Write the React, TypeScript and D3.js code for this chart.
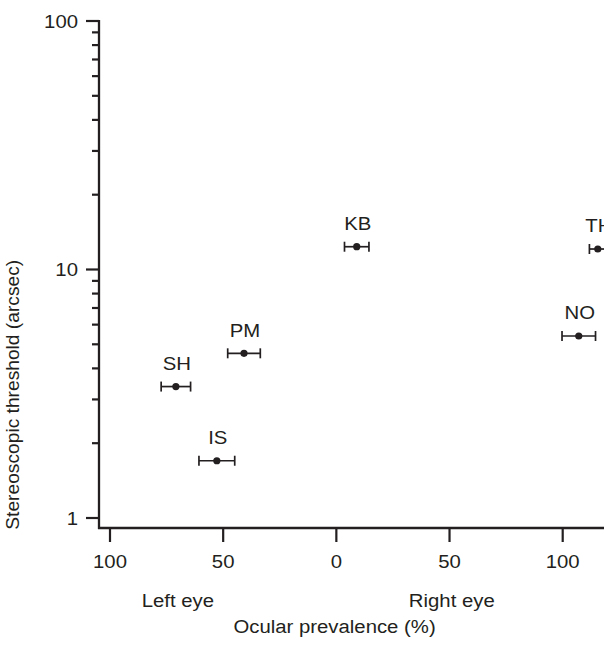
import React from "react";
import * as d3 from "d3";

const names = ["SH", "PM", "IS", "KB", "NO", "TH"];
const prevalence = [-70.9, -40.8, -52.8, 9.0, 107.1, 115.5];
const prevalenceErr = [6.5, 7.2, 7.9, 5.4, 7.4, 3.7];
const threshold = [3.38, 4.6, 1.7, 12.35, 5.4, 12.09];
const xTicks = [-100, -50, 0, 50, 100];
const yMajor = [1, 10, 100];
const yMinor = [2, 3, 4, 5, 6, 7, 8, 9, 20, 30, 40, 50, 60, 70, 80, 90];

const W = 604;
const H = 646;
const INK = "#231f20";
const FONT = "'Liberation Sans', Arial, Helvetica, sans-serif";
const FS = 19.2;
const SX = 1.06;

export default function App() {
  const x = d3.scaleLinear().domain([-100, 100]).range([110, 562.7]);
  const y = d3.scaleLog().domain([1, 100]).range([518, 21]);
  const axisY = 528;
  const axisX = 99;

  const T = (px: number, py: number, s: string, anchor = "middle", key?: string) => (
    <text
      key={key}
      transform={`translate(${px},${py}) scale(${SX},1)`}
      textAnchor={anchor}
      fontFamily={FONT}
      fontSize={FS}
      fill={INK}
    >
      {s}
    </text>
  );

  return (
    <svg
      width={W}
      height={H}
      style={{ position: "absolute", left: 0, top: 0, display: "block", overflow: "hidden", background: "#fff" }}
    >
      <rect x={0} y={0} width={W} height={H} fill="#fff" />
      {/* y axis */}
      <line x1={axisX} x2={axisX} y1={y(100) - 1} y2={axisY + 1} stroke={INK} strokeWidth={2.3} />
      {yMajor.map((v) => (
        <g key={"ym" + v}>
          <line x1={axisX - 13} x2={axisX} y1={y(v)} y2={y(v)} stroke={INK} strokeWidth={2.2} />
          {T(axisX - 21, y(v) + 6.8, String(v), "end")}
        </g>
      ))}
      {yMinor.map((v) => (
        <line key={"yn" + v} x1={axisX - 7} x2={axisX} y1={y(v)} y2={y(v)} stroke={INK} strokeWidth={2.2} />
      ))}
      {/* x axis */}
      <line x1={axisX - 1} x2={W + 10} y1={axisY} y2={axisY} stroke={INK} strokeWidth={2.3} />
      {xTicks.map((v) => (
        <g key={"xt" + v}>
          <line x1={x(v)} x2={x(v)} y1={axisY} y2={axisY + 14} stroke={INK} strokeWidth={2.2} />
          {T(x(v), 568, String(Math.abs(v)))}
        </g>
      ))}
      {T(x(-70), 607, "Left eye")}
      {T(x(51), 607, "Right eye")}
      {T(x(-0.8), 633, "Ocular prevalence (%)")}
      <text
        transform={`translate(19,${y(Math.sqrt(10)) + 1}) rotate(-90) scale(1,${1 / SX}) `}
        textAnchor="middle"
        fontFamily={FONT}
        fontSize={FS}
        fill={INK}
      >
        Stereoscopic threshold (arcsec)
      </text>
      {/* data */}
      {names.map((n, i) => {
        const cx = x(prevalence[i]);
        const cy = y(threshold[i]);
        const x0 = x(prevalence[i] - prevalenceErr[i]);
        const x1 = x(prevalence[i] + prevalenceErr[i]);
        return (
          <g key={n}>
            <line x1={x0} x2={x1} y1={cy} y2={cy} stroke={INK} strokeWidth={1.7} />
            <line x1={x0} x2={x0} y1={cy - 5} y2={cy + 5} stroke={INK} strokeWidth={1.7} />
            <line x1={x1} x2={x1} y1={cy - 5} y2={cy + 5} stroke={INK} strokeWidth={1.7} />
            <circle cx={cx} cy={cy} r={3.6} fill={INK} />
            {T(cx + 1, cy - 16.7, n)}
          </g>
        );
      })}
    </svg>
  );
}
